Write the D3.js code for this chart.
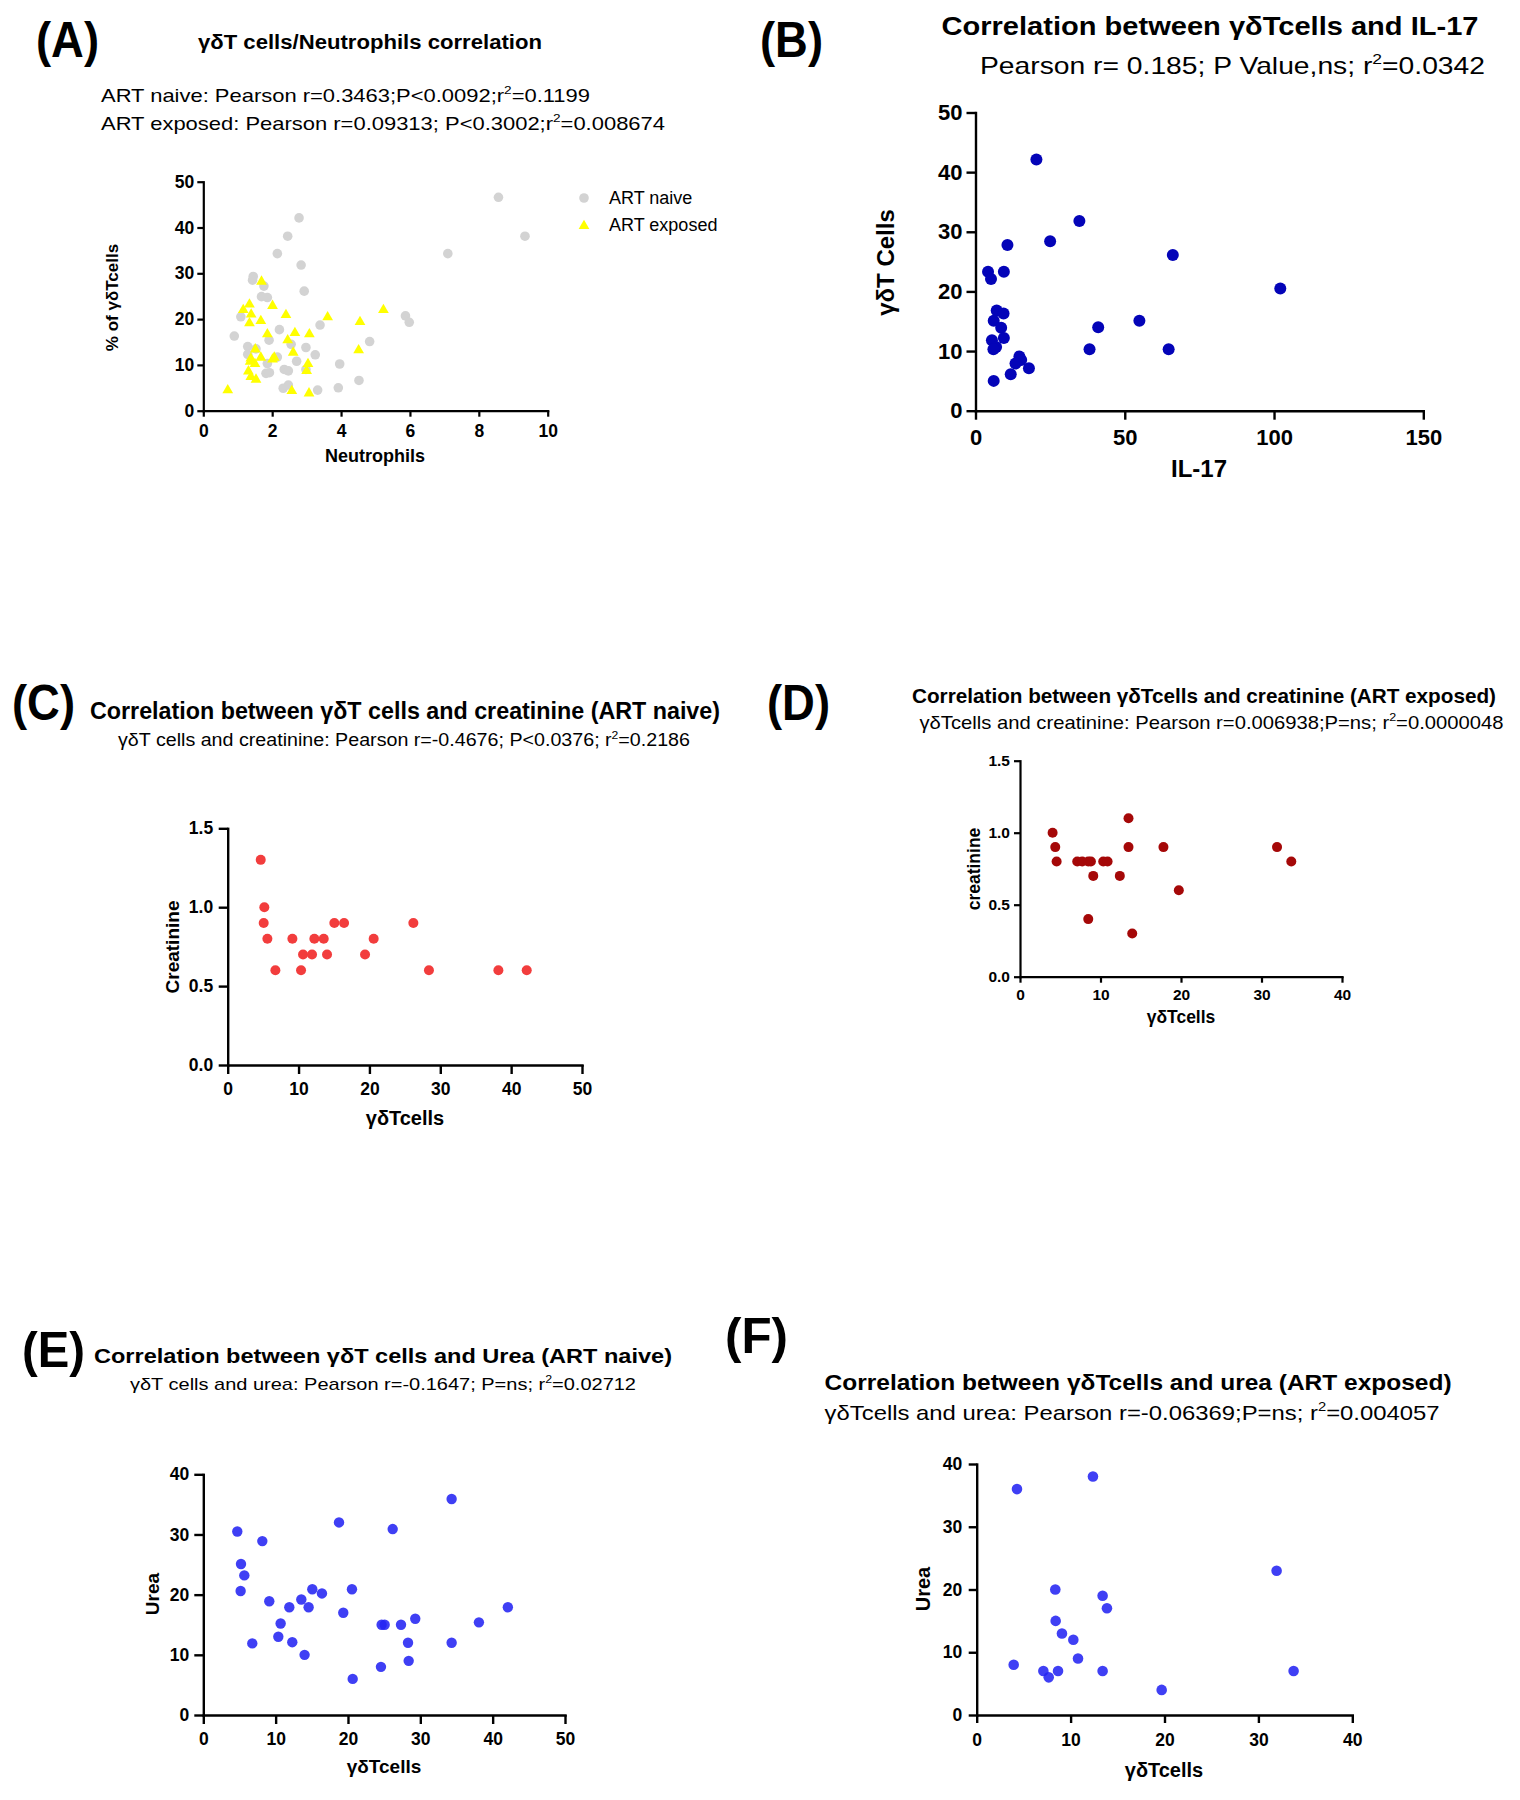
<!DOCTYPE html>
<html>
<head>
<meta charset="utf-8">
<script src="https://cdn.jsdelivr.net/npm/d3@7"></script>
<style>
  html, body { margin: 0; padding: 0; background: #fff; }
  svg { display: block; }
</style>
</head>
<body>
<script>
// ---------------- DATA ----------------
// Panel A: [neutrophils, % of γδT cells]
const aNaive = [[8.57,46.6],[9.34,38.1],[7.10,34.3],[2.78,42.1],[2.45,38.1],[2.15,34.3],[2.84,31.8],[2.93,26.1],
  [1.45,29.3],[1.43,28.5],[1.76,27.2],[1.69,24.9],[1.86,24.7],[1.09,20.5],[0.90,16.3],[2.21,17.7],[1.91,15.4],
  [2.55,14.5],[3.39,18.7],[2.98,13.8],[3.25,12.2],[1.29,14.0],[1.29,12.3],[1.53,13.5],[2.15,11.7],[1.86,10.3],
  [1.82,8.15],[1.92,8.3],[2.71,10.8],[2.35,9.0],[2.47,8.7],[2.98,9.0],[3.96,10.2],[4.83,15.1],[5.87,20.7],
  [5.98,19.3],[4.52,6.6],[3.92,5.0],[3.32,4.5],[2.32,4.9],[2.47,5.6]];
const aExposed = [[1.69,28.2],[1.34,23.2],[1.16,22.0],[1.39,21.0],[1.34,19.1],[1.67,19.6],[2.01,22.9],[2.40,20.9],
  [3.61,20.4],[5.23,22.0],[4.55,19.4],[1.86,16.7],[2.66,17.0],[3.08,16.7],[2.45,15.4],[1.51,13.4],[2.61,12.7],
  [4.51,13.2],[1.36,10.7],[1.50,10.2],[1.38,11.4],[1.67,11.6],[2.06,11.6],[2.01,11.2],[3.04,10.2],[3.00,8.7],
  [1.31,8.6],[1.38,7.4],[1.53,6.8],[0.71,4.5],[2.57,4.3],[3.07,3.8]];
// Panel B: [IL-17, γδT cells]
const bPoints = [[20.4,42.1],[34.8,31.8],[25.0,28.4],[10.7,27.8],[66.1,26.1],[4.2,23.3],[9.5,23.3],[5.2,22.1],
  [102.1,20.5],[7.1,16.8],[9.4,16.3],[6.1,15.1],[54.9,15.1],[8.6,13.9],[41.1,14.0],[5.5,11.8],[9.5,12.2],
  [6.9,10.7],[6.0,10.3],[38.2,10.3],[64.7,10.3],[14.7,9.1],[15.3,8.5],[13.4,7.9],[17.9,7.1],[11.8,6.1],[6.1,5.0]];
// Panel C: [γδT cells, creatinine] ART naive
const cPoints = [[4.66,1.3],[5.17,1.0],[5.08,0.9],[5.6,0.8],[6.73,0.6],[9.13,0.8],[10.35,0.6],[10.63,0.7],
  [11.9,0.7],[12.23,0.8],[13.55,0.8],[14.02,0.7],[15.05,0.9],[16.42,0.9],[19.38,0.7],[20.6,0.8],[26.2,0.9],
  [28.4,0.6],[38.2,0.6],[42.2,0.6]];
// Panel D: [γδT cells, creatinine] ART exposed
const dPoints = [[4.05,1.0],[4.38,0.9],[4.55,0.8],[7.11,0.8],[7.73,0.8],[8.48,0.8],[8.81,0.8],[8.48,0.4],
  [9.1,0.7],[10.34,0.8],[10.88,0.8],[12.4,0.7],[13.48,1.1],[13.48,0.9],[13.94,0.3],[17.82,0.9],[19.73,0.6],
  [31.93,0.9],[33.7,0.8]];
// Panel E: [γδT cells, urea] ART naive
const ePoints = [[4.70,30.5],[5.21,25.1],[5.67,23.2],[5.16,20.6],[8.16,28.9],[9.12,18.9],[6.77,11.9],[10.69,15.2],
  [10.37,13.0],[11.89,17.9],[12.30,12.1],[13.55,19.2],[14.56,17.9],[14.0,10.0],[15.07,20.9],[16.4,20.2],
  [18.76,32.0],[19.35,17.0],[20.55,20.9],[20.65,6.0],[24.56,8.0],[24.65,15.0],[25.07,15.0],[26.18,30.9],
  [27.33,15.0],[29.3,16.0],[28.3,12.0],[28.39,9.0],[34.33,35.9],[34.33,12.0],[38.1,15.4],[42.1,17.9]];
// Panel F: [γδT cells, urea] ART exposed
const fPoints = [[4.29,36.0],[12.38,38.0],[31.94,23.0],[8.37,20.0],[13.41,19.0],[13.87,17.0],[8.41,15.0],
  [9.08,13.0],[10.29,12.0],[10.79,9.0],[3.94,8.0],[7.10,7.0],[7.67,6.0],[8.66,7.0],[13.41,7.0],[19.7,4.0],[33.75,7.0]];

// Tick values
const ticksA_x = [0,2,4,6,8,10], ticksA_y = [0,10,20,30,40,50];
const ticksB_x = [0,50,100,150], ticksB_y = [0,10,20,30,40,50];
const ticksC_x = [0,10,20,30,40,50], ticksC_y = [0,0.5,1.0,1.5];
const ticksD_x = [0,10,20,30,40], ticksD_y = [0,0.5,1.0,1.5];
const ticksE_x = [0,10,20,30,40,50], ticksE_y = [0,10,20,30,40];
const ticksF_x = [0,10,20,30,40], ticksF_y = [0,10,20,30,40];

// ---------------- DRAWING ----------------
const FONT = "'Liberation Sans', Arial, Helvetica, sans-serif";
const svg = d3.select("body").append("svg").attr("width",1520).attr("height",1800);
svg.append("rect").attr("width",1520).attr("height",1800).attr("fill","#fff");

function richText(parent, o) {
  const t = parent.append("text").attr("x", o.x).attr("y", o.y)
    .attr("font-family", FONT).attr("font-size", o.size)
    .attr("font-weight", o.weight || "normal")
    .attr("text-anchor", o.anchor || "start").attr("fill", "#000");
  if (o.rotate) t.attr("transform", `rotate(${o.rotate},${o.x},${o.y})`);
  if (o.length) t.attr("textLength", o.length).attr("lengthAdjust", "spacingAndGlyphs");
  const parts = Array.isArray(o.text) ? o.text : [o.text];
  let raised = false;
  parts.forEach(p => {
    if (typeof p === "string") {
      const ts = t.append("tspan").text(p);
      if (raised) { ts.attr("dy", o.size * 0.42); raised = false; }
    } else {
      t.append("tspan").attr("font-size", o.size * 0.62).attr("dy", -o.size * 0.42).text(p.sup);
      raised = true;
    }
  });
  return t;
}

function panel(c) {
  const g = svg.append("g");
  const x = d3.scaleLinear().domain(c.xDomain).range(c.xRange);
  const y = d3.scaleLinear().domain(c.yDomain).range(c.yRange);
  const xa = g.append("g").attr("transform", `translate(0,${c.yRange[0]})`)
    .call(d3.axisBottom(x).tickValues(c.xTicks).tickSize(c.tick).tickSizeOuter(0)
      .tickPadding(c.xPad).tickFormat(c.xFmt || d3.format("d")));
  const ya = g.append("g").attr("transform", `translate(${c.xRange[0]},0)`)
    .call(d3.axisLeft(y).tickValues(c.yTicks).tickSize(c.tick).tickSizeOuter(0)
      .tickPadding(c.yPad).tickFormat(c.yFmt || d3.format("d")));
  [xa, ya].forEach(a => {
    a.select(".domain").attr("stroke", "#000").attr("stroke-width", c.lw).attr("stroke-linecap", "square");
    a.selectAll(".tick line").attr("stroke", "#000").attr("stroke-width", c.lw);
    a.selectAll(".tick text").attr("font-family", FONT).attr("font-size", c.tickFont)
      .attr("font-weight", "bold").attr("fill", "#000");
  });
  c.series.forEach(s => {
    if (s.symbol === "triangle") {
      g.append("g").selectAll("path").data(s.data).join("path")
        .attr("d", d3.symbol(d3.symbolTriangle, s.size))
        .attr("transform", d => `translate(${x(d[0])},${y(d[1])})`)
        .attr("fill", s.color);
    } else {
      g.append("g").selectAll("circle").data(s.data).join("circle")
        .attr("cx", d => x(d[0])).attr("cy", d => y(d[1])).attr("r", s.r)
        .attr("fill", s.color).attr("fill-opacity", s.opacity || 1);
    }
  });
  richText(g, Object.assign({weight: "bold", anchor: "middle"}, c.xLabel));
  richText(g, Object.assign({weight: "bold", anchor: "middle", rotate: -90}, c.yLabel));
  return {x, y, g};
}

// Panel letters
[["(A)",36,57],["(B)",760,57],["(C)",12,720],["(D)",767,720],["(E)",22,1367],["(F)",725,1353]]
  .forEach(([t,x,y]) => richText(svg, {text: t, x, y, size: 50, weight: "bold", length: 63}));

// ---- Panel A ----
richText(svg, {text: "γδT cells/Neutrophils correlation", x: 370, y: 49, size: 20, weight: "bold", anchor: "middle", length: 344});
richText(svg, {text: ["ART naive: Pearson r=0.3463;P<0.0092;r", {sup: "2"}, "=0.1199"], x: 101, y: 102, size: 18.5, length: 489});
richText(svg, {text: ["ART exposed: Pearson r=0.09313; P<0.3002;r", {sup: "2"}, "=0.008674"], x: 101, y: 130, size: 18.5, length: 564});
panel({
  xDomain: [0,10], xRange: [203.3,547.7], yDomain: [0,50], yRange: [410.7,181.7],
  xTicks: ticksA_x, yTicks: ticksA_y, tick: 6, xPad: 8, yPad: 3, tickFont: 17.5, lw: 2.2,
  series: [
    {data: aNaive, r: 4.8, color: "#d3d3d3"},
    {data: aExposed, symbol: "triangle", size: 50, color: "#ffff00"}
  ],
  xLabel: {text: "Neutrophils", x: 375, y: 462, size: 18},
  yLabel: {text: "% of γδTcells", x: 118, y: 297.5, size: 17}
});
// legend
svg.append("circle").attr("cx", 584).attr("cy", 198).attr("r", 4.8).attr("fill", "#d3d3d3");
svg.append("path").attr("d", d3.symbol(d3.symbolTriangle, 50)).attr("transform", "translate(584,226)").attr("fill", "#ffff00");
richText(svg, {text: "ART naive", x: 609, y: 204, size: 18});
richText(svg, {text: "ART exposed", x: 609, y: 231, size: 18});

// ---- Panel B ----
richText(svg, {text: "Correlation between γδTcells and IL-17", x: 941.5, y: 35, size: 26, weight: "bold", length: 537});
richText(svg, {text: ["Pearson r= 0.185; P Value,ns; r", {sup: "2"}, "=0.0342"], x: 980, y: 74, size: 24, length: 505});
panel({
  xDomain: [0,150], xRange: [975.5,1423.3], yDomain: [0,50], yRange: [410.7,112.5],
  xTicks: ticksB_x, yTicks: ticksB_y, tick: 9, xPad: 9.5, yPad: 4, tickFont: 22, lw: 2.4,
  series: [{data: bPoints, r: 6, color: "#0404b8"}],
  xLabel: {text: "IL-17", x: 1199, y: 477, size: 24},
  yLabel: {text: "γδT Cells", x: 894, y: 262.5, size: 24}
});

// ---- Panel C ----
richText(svg, {text: "Correlation between γδT cells and creatinine (ART naive)", x: 90, y: 719, size: 23, weight: "bold", length: 630});
richText(svg, {text: ["γδT cells and creatinine: Pearson r=-0.4676; P<0.0376; r", {sup: "2"}, "=0.2186"], x: 118, y: 746, size: 17.5, length: 572});
panel({
  xDomain: [0,50], xRange: [227.7,582], yDomain: [0,1.5], yRange: [1065,828.3],
  xTicks: ticksC_x, yTicks: ticksC_y, yFmt: d3.format(".1f"), tick: 9, xPad: 9, yPad: 5.5, tickFont: 17.5, lw: 2.4,
  series: [{data: cPoints, r: 5, color: "#f23d3d"}],
  xLabel: {text: "γδTcells", x: 405, y: 1125, size: 20},
  yLabel: {text: "Creatinine", x: 179, y: 947, size: 19}
});

// ---- Panel D ----
richText(svg, {text: "Correlation between γδTcells and creatinine (ART exposed)", x: 912, y: 703, size: 21, weight: "bold", length: 584});
richText(svg, {text: ["γδTcells and creatinine: Pearson r=0.006938;P=ns; r", {sup: "2"}, "=0.0000048"], x: 919.5, y: 729, size: 19, length: 584});
panel({
  xDomain: [0,40], xRange: [1020,1342], yDomain: [0,1.5], yRange: [976.7,760.7],
  xTicks: ticksD_x, yTicks: ticksD_y, yFmt: d3.format(".1f"), tick: 6, xPad: 6, yPad: 4, tickFont: 15.5, lw: 2.2,
  series: [{data: dPoints, r: 5, color: "#a50808"}],
  xLabel: {text: "γδTcells", x: 1181, y: 1023, size: 17.5},
  yLabel: {text: "creatinine", x: 980, y: 869, size: 17.5}
});

// ---- Panel E ----
richText(svg, {text: "Correlation between γδT cells and Urea (ART naive)", x: 94, y: 1363, size: 21, weight: "bold", length: 578});
richText(svg, {text: ["γδT cells and urea: Pearson r=-0.1647; P=ns; r", {sup: "2"}, "=0.02712"], x: 130, y: 1390, size: 17, length: 506});
panel({
  xDomain: [0,50], xRange: [203.3,565], yDomain: [0,40], yRange: [1715,1474.3],
  xTicks: ticksE_x, yTicks: ticksE_y, tick: 9, xPad: 9, yPad: 5, tickFont: 17.5, lw: 2.4,
  series: [{data: ePoints, r: 5.2, color: "#2424f2", opacity: 0.88}],
  xLabel: {text: "γδTcells", x: 384, y: 1773, size: 19},
  yLabel: {text: "Urea", x: 159, y: 1594, size: 19}
});

// ---- Panel F ----
richText(svg, {text: "Correlation between γδTcells and urea (ART exposed)", x: 824.6, y: 1390, size: 22, weight: "bold", length: 627});
richText(svg, {text: ["γδTcells and urea: Pearson r=-0.06369;P=ns; r", {sup: "2"}, "=0.004057"], x: 824.6, y: 1420, size: 21, length: 615});
panel({
  xDomain: [0,40], xRange: [976.7,1352.3], yDomain: [0,40], yRange: [1715,1464],
  xTicks: ticksF_x, yTicks: ticksF_y, tick: 8, xPad: 11, yPad: 6.5, tickFont: 17.5, lw: 2.4,
  series: [{data: fPoints, r: 5.3, color: "#2424f2", opacity: 0.88}],
  xLabel: {text: "γδTcells", x: 1164, y: 1777, size: 20},
  yLabel: {text: "Urea", x: 930, y: 1589, size: 20}
});
</script>
</body>
</html>
